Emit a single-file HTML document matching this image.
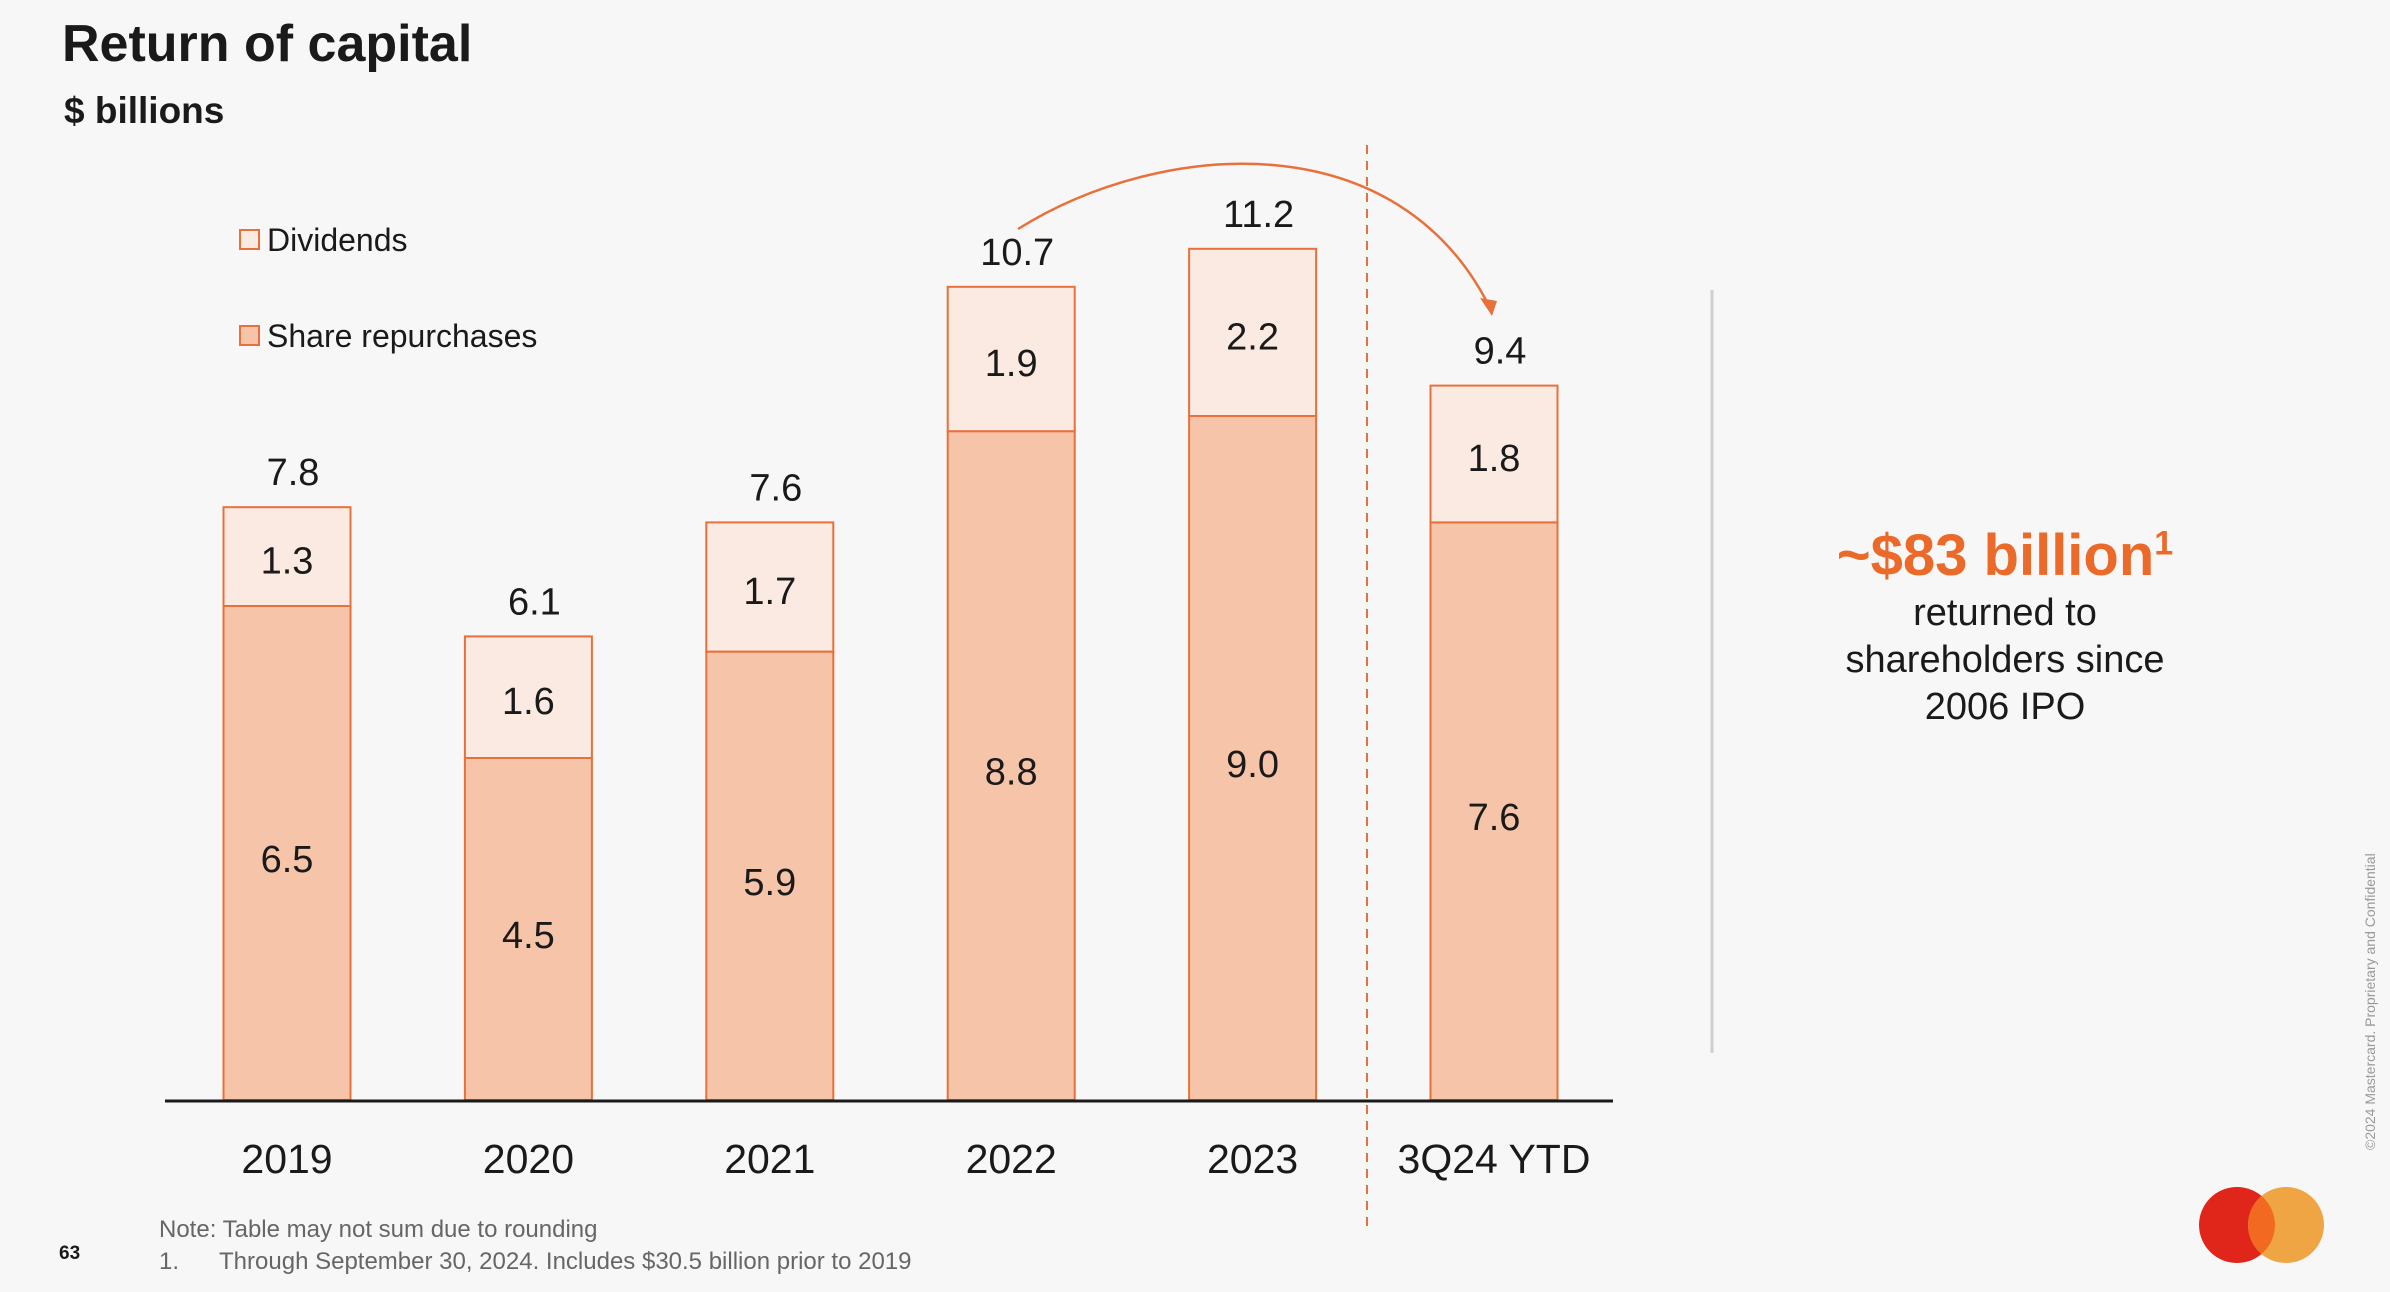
<!DOCTYPE html>
<html><head><meta charset="utf-8"><style>
html,body{margin:0;padding:0;background:#f7f7f7;}
body{width:2390px;height:1292px;position:relative;overflow:hidden;font-family:"Liberation Sans",sans-serif;color:#1a1a1a;}
.abs{position:absolute;}
</style></head><body>
<div class="abs" style="left:62px;top:14px;font-size:52px;font-weight:bold;">Return of capital</div>
<div class="abs" style="left:64px;top:90px;font-size:37px;font-weight:bold;">$ billions</div>
<svg class="abs" style="left:0;top:0" width="2390" height="1292">
<g id="g"></g>
</svg>
<div class="abs" style="left:1700px;top:522px;width:610px;text-align:center;font-size:58px;font-weight:bold;color:#eb6a2a;">~$83 billion<sup style="font-size:34px">1</sup></div>
<div class="abs" style="left:1700px;top:590px;width:610px;text-align:center;font-size:38px;line-height:47px;">returned to<br>shareholders since<br>2006 IPO</div>
<div class="abs" style="left:159px;top:1216px;font-size:24px;color:#666;">Note: Table may not sum due to rounding</div>
<div class="abs" style="left:159px;top:1248px;font-size:24px;color:#666;">1.&nbsp;&nbsp;&nbsp;&nbsp;&nbsp;&nbsp;Through September 30, 2024. Includes $30.5 billion prior to 2019</div>
<div class="abs" style="left:59px;top:1243px;font-size:19px;font-weight:bold;">63</div>
<div class="abs" style="left:2362px;top:1150px;font-size:14px;color:#999;transform:rotate(-90deg);transform-origin:0 0;white-space:nowrap;">©2024 Mastercard. Proprietary and Confidential</div>
<svg class="abs" style="left:2190px;top:1180px" width="140" height="90">
<circle cx="47" cy="45" r="38" fill="#e0261b"/><circle cx="96" cy="45" r="38" fill="#eea03a" opacity="0.95"/>
<path d="M71.5,16 A38,38 0 0 1 71.5,74 A38,38 0 0 1 71.5,16Z" fill="#f26a21"/>
</svg>
<script>
const categories=["2019","2020","2021","2022","2023","3Q24 YTD"];
const repurchases=[6.5,4.5,5.9,8.8,9.0,7.6];
const dividends=[1.3,1.6,1.7,1.9,2.2,1.8];
const totals=[7.8,6.1,7.6,10.7,11.2,9.4];
const NS="http://www.w3.org/2000/svg";
const g=document.getElementById('g');
const base=1100,unit=76,x0=287,step=241.4,bw=127;
const xc=i=>x0+i*step, yv=v=>base-v*unit;
function el(t,a){const e=document.createElementNS(NS,t);for(const k in a)e.setAttribute(k,a[k]);g.appendChild(e);return e;}
function txt(x,y,s,size,name){const e=el('text',{x:x,y:y,'font-size':size,'text-anchor':'middle','dominant-baseline':'central',fill:'#1a1a1a','font-family':'Liberation Sans, sans-serif'});e.textContent=s;

return e;}
categories.forEach((c,i)=>{
 const r=repurchases[i],d=dividends[i],t=totals[i];
 const yTop=yv(t),yMid=yv(t-d);
 const rb=el('rect',{x:xc(i)-bw/2,y:yMid,width:bw,height:base-yMid,fill:'#f6c4a8',stroke:'#e8703a','stroke-width':2});
 
 
 const db=el('rect',{x:xc(i)-bw/2,y:yTop,width:bw,height:yMid-yTop,fill:'#fbeae2',stroke:'#e8703a','stroke-width':2});
 
 
 txt(xc(i),(yMid+base)/2+7,r.toFixed(1),38,'label-repurchases');
 txt(xc(i),(yTop+yMid)/2+5,d.toFixed(1),38,'label-dividends');
 txt(xc(i)+6,yTop-34,t.toFixed(1),38,'label-total');
 txt(xc(i),1159,c,41,'x-axis-label');
});
const ax=el('line',{x1:165,y1:1101,x2:1613,y2:1101,stroke:'#1a1a1a','stroke-width':3});


const dl=el('line',{x1:1367,y1:145,x2:1367,y2:1232,stroke:'#e8703a','stroke-width':2,'stroke-dasharray':'9,7'});


const gl=el('line',{x1:1712,y1:290,x2:1712,y2:1053,stroke:'#cfcfcf','stroke-width':3});


const arc=el('path',{d:'M1018,229 C1160,140 1400,120 1492,312',fill:'none',stroke:'#e8703a','stroke-width':2.5});


const ah=el('path',{d:'M1492,316 L1480,298 L1497,301 Z',fill:'#e8703a'});


[['Dividends','#fbeae2',240],['Share repurchases','#f6c4a8',336]].forEach(l=>{
 const s=el('rect',{x:240,y:l[2]-10,width:19,height:19,fill:l[1],stroke:'#e8703a','stroke-width':2});
 
 
 const t=el('text',{x:267,y:l[2],'font-size':32,'dominant-baseline':'central',fill:'#1a1a1a','font-family':'Liberation Sans, sans-serif'});
 t.textContent=l[0];
 
 
});
</script>
</body></html>
